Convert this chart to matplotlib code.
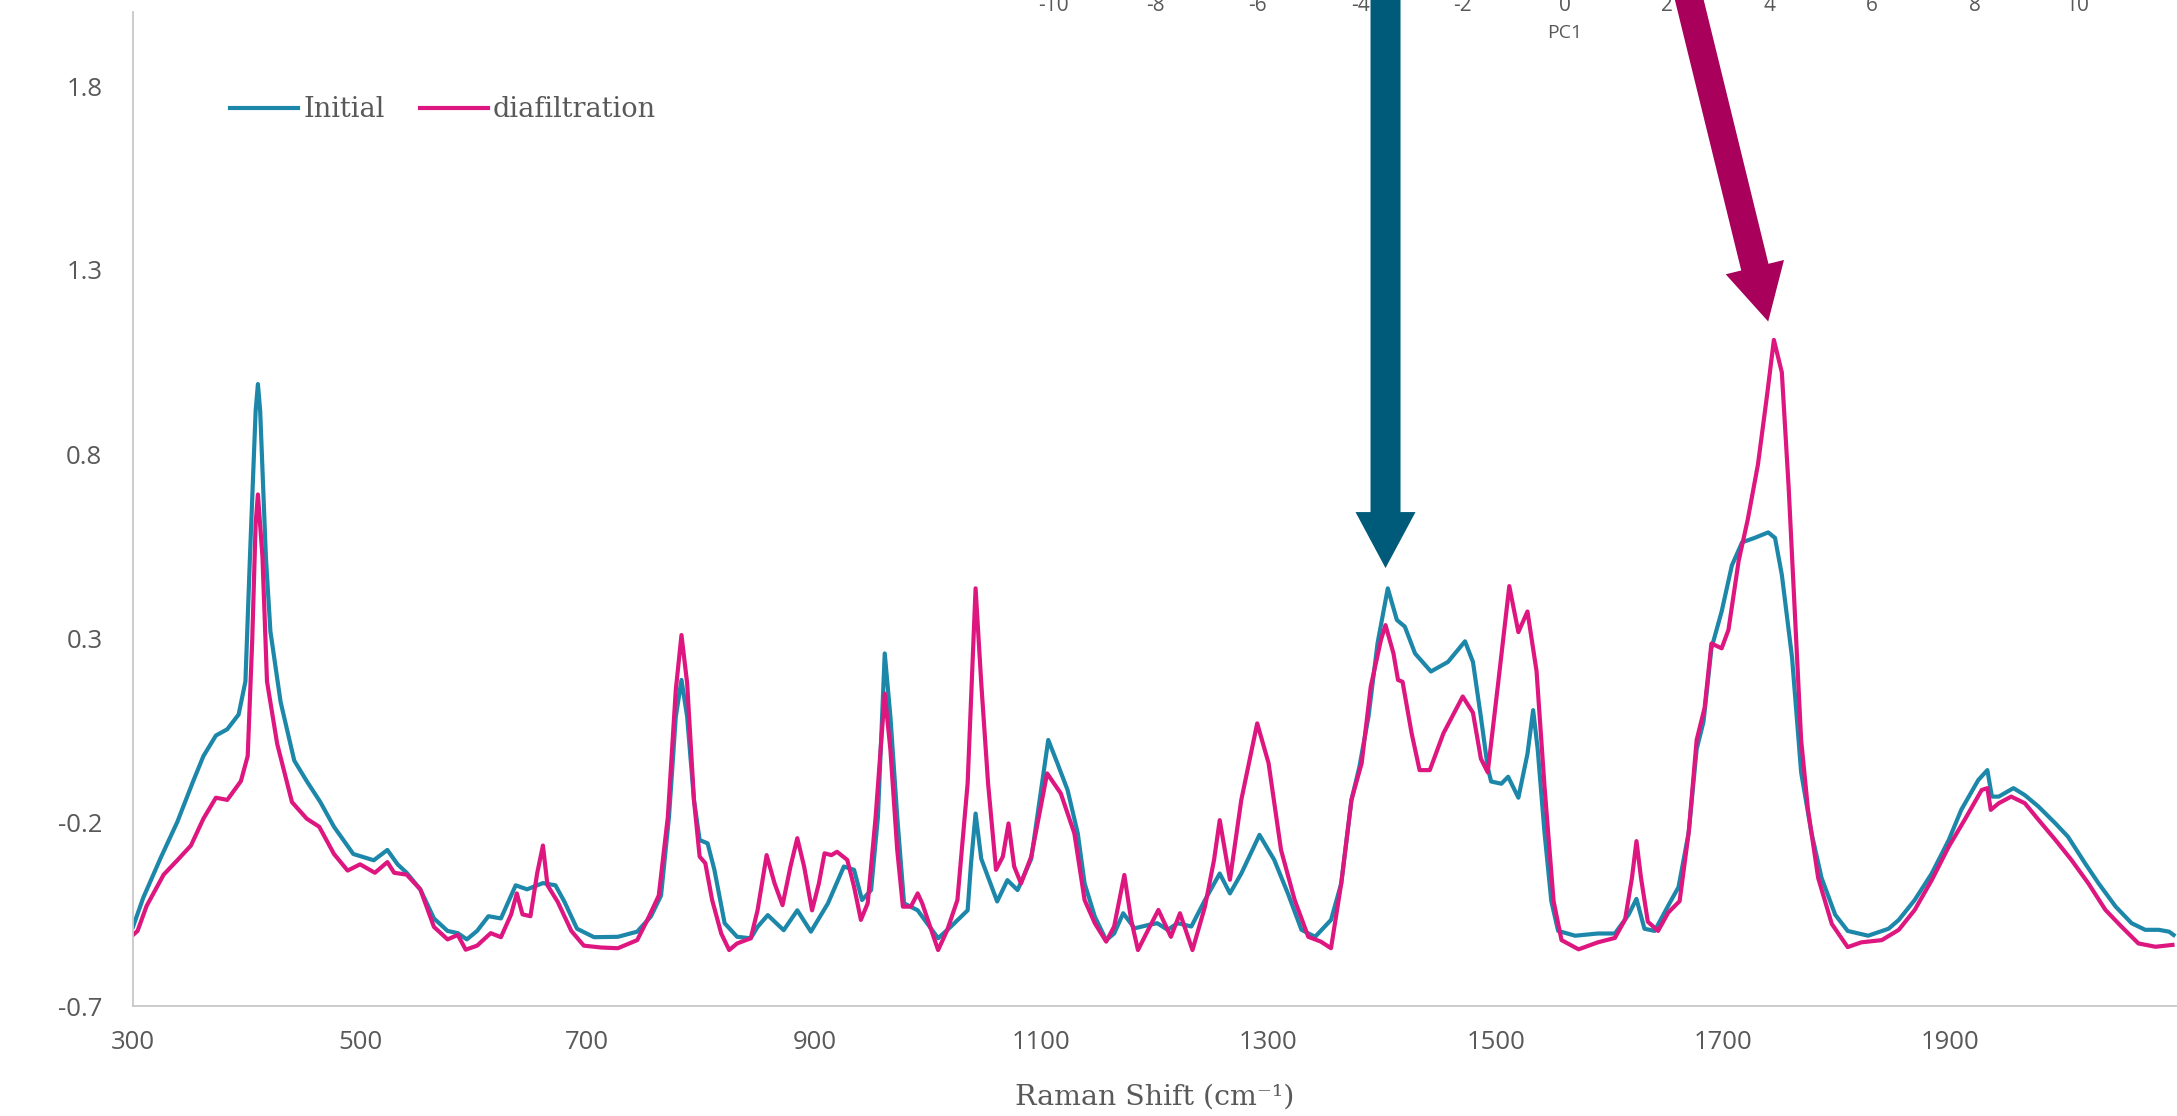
import matplotlib
matplotlib.use('Agg')
import matplotlib.pyplot as plt
from matplotlib.patches import FancyArrow
from matplotlib.transforms import IdentityTransform

plt.rcParams['axes.unicode_minus'] = False

# Raman shift (cm-1) and intensity
initial_x = [300, 309, 324, 339, 353, 362, 373, 383, 393, 399, 403, 408, 410, 412, 417, 421, 430, 442, 453, 465,
             477, 494, 512, 524, 533, 541, 553, 565, 577, 586, 594, 603, 613, 624, 637, 647, 661, 672, 680, 691,
             706, 727, 744, 756, 765, 772, 778, 783, 788, 794, 799, 806, 812, 821, 832, 844, 850, 859, 873, 885,
             897, 912, 926, 935, 942, 950, 956, 962, 967, 973, 979, 991, 1009, 1020, 1035, 1038, 1042, 1047, 1061, 1070,
             1079, 1091, 1106, 1114, 1123, 1132, 1138, 1147, 1157, 1164, 1172, 1182, 1194, 1202, 1211, 1220, 1232, 1244, 1257, 1266,
             1276, 1292, 1305, 1317, 1329, 1341, 1355, 1364, 1373, 1380, 1388, 1396, 1405, 1413, 1420, 1429, 1443, 1458, 1473, 1480,
             1487, 1493, 1496, 1505, 1511, 1520, 1528, 1533, 1537, 1543, 1549, 1555, 1570, 1590, 1605, 1617, 1624, 1631, 1640, 1652,
             1661, 1670, 1677, 1683, 1690, 1699, 1708, 1717, 1728, 1740, 1746, 1752, 1761, 1769, 1778, 1787, 1799, 1810, 1828, 1846,
             1855, 1869, 1884, 1899, 1910, 1925, 1933, 1937, 1943, 1956, 1966, 1978, 1993, 2004, 2019, 2031, 2046, 2060, 2072, 2084,
             2093, 2097]
initial_y = [-0.485, -0.406, -0.30, -0.20, -0.089, -0.021, 0.035, 0.052, 0.092, 0.182, 0.521, 0.917, 0.99, 0.917, 0.521, 0.318, 0.126, -0.033, -0.089, -0.146,
             -0.213, -0.287, -0.304, -0.276, -0.315, -0.338, -0.383, -0.462, -0.496, -0.502, -0.519, -0.496, -0.456, -0.462, -0.372, -0.383, -0.366, -0.372, -0.417, -0.49,
             -0.513, -0.512, -0.498, -0.457, -0.40, -0.186, 0.086, 0.186, 0.086, -0.14, -0.249, -0.258, -0.33, -0.475, -0.512, -0.516, -0.485, -0.453, -0.494, -0.44,
             -0.498, -0.421, -0.321, -0.33, -0.412, -0.385, -0.186, 0.258, 0.086, -0.186, -0.421, -0.44, -0.516, -0.485, -0.44, -0.312, -0.177, -0.30, -0.416, -0.358,
             -0.385, -0.30, 0.023, -0.04, -0.113, -0.231, -0.367, -0.457, -0.521, -0.503, -0.448, -0.489, -0.48, -0.475, -0.493, -0.475, -0.484, -0.412, -0.34, -0.394,
             -0.34, -0.235, -0.303, -0.394, -0.493, -0.512, -0.466, -0.367, -0.14, -0.05, 0.086, 0.286, 0.435, 0.349, 0.331, 0.258, 0.209, 0.235, 0.291, 0.235,
             0.085, -0.052, -0.09, -0.096, -0.077, -0.134, -0.015, 0.104, -0.002, -0.228, -0.415, -0.496, -0.509, -0.503, -0.503, -0.452, -0.409, -0.49, -0.496, -0.427,
             -0.377, -0.228, -0.002, 0.072, 0.272, 0.372, 0.497, 0.56, 0.572, 0.587, 0.572, 0.472, 0.247, -0.065, -0.228, -0.352, -0.452, -0.496, -0.509, -0.49,
             -0.466, -0.412, -0.34, -0.249, -0.167, -0.086, -0.059, -0.131, -0.131, -0.108, -0.127, -0.158, -0.204, -0.24, -0.312, -0.367, -0.43, -0.475, -0.493, -0.493,
             -0.498, -0.507]

diaf_x = [300, 304, 312, 327, 339, 351, 362, 373, 383, 395, 401, 405, 408, 410, 414, 418, 427, 440, 453, 464,
          477, 489, 500, 513, 524, 530, 541, 553, 565, 577, 586, 593, 603, 615, 624, 633, 638, 643, 650, 656,
          661, 665, 674, 686, 697, 712, 727, 744, 753, 763, 771, 778, 783, 788, 794, 799, 804, 810, 818, 825,
          832, 844, 850, 858, 865, 872, 879, 885, 891, 898, 904, 909, 915, 920, 929, 935, 941, 947, 954, 962,
          967, 973, 978, 985, 991, 995, 1003, 1009, 1017, 1026, 1035, 1042, 1047, 1053, 1060, 1066, 1071, 1076, 1082, 1091,
          1105, 1117, 1129, 1138, 1147, 1157, 1164, 1173, 1179, 1185, 1194, 1203, 1214, 1222, 1233, 1244, 1252, 1257, 1266, 1276,
          1290, 1300, 1311, 1323, 1335, 1346, 1355, 1364, 1373, 1382, 1390, 1399, 1403, 1410, 1414, 1418, 1426, 1433, 1442, 1454,
          1471, 1480, 1487, 1493, 1502, 1512, 1520, 1528, 1536, 1543, 1551, 1558, 1573, 1590, 1605, 1614, 1620, 1624, 1628, 1634,
          1643, 1652, 1662, 1670, 1677, 1684, 1690, 1699, 1705, 1714, 1722, 1731, 1739, 1745, 1752, 1758, 1764, 1769, 1775, 1784,
          1796, 1810, 1822, 1840, 1855, 1869, 1884, 1899, 1913, 1928, 1933, 1936, 1943, 1954, 1966, 1978, 1993, 2007, 2022, 2037,
          2051, 2066, 2081, 2096]
diaf_y = [-0.507, -0.496, -0.428, -0.343, -0.304, -0.264, -0.191, -0.134, -0.14, -0.089, -0.021, 0.295, 0.611, 0.69, 0.521, 0.182, 0.012, -0.146, -0.191, -0.213,
          -0.287, -0.332, -0.315, -0.338, -0.309, -0.338, -0.343, -0.383, -0.485, -0.519, -0.507, -0.547, -0.536, -0.502, -0.513, -0.451, -0.394, -0.451, -0.456, -0.338,
          -0.264, -0.372, -0.417, -0.496, -0.536, -0.541, -0.543, -0.521, -0.466, -0.40, -0.186, 0.159, 0.308, 0.177, -0.14, -0.294, -0.312, -0.412, -0.503, -0.548,
          -0.53, -0.516, -0.44, -0.29, -0.367, -0.426, -0.321, -0.244, -0.321, -0.44, -0.367, -0.285, -0.29, -0.281, -0.303, -0.376, -0.466, -0.421, -0.186, 0.149,
          -0.004, -0.276, -0.43, -0.43, -0.394, -0.421, -0.494, -0.548, -0.494, -0.412, -0.095, 0.435, 0.177, -0.095, -0.33, -0.294, -0.204, -0.321, -0.367, -0.294,
          -0.068, -0.122, -0.231, -0.412, -0.475, -0.525, -0.484, -0.344, -0.466, -0.548, -0.493, -0.439, -0.512, -0.448, -0.548, -0.43, -0.303, -0.195, -0.357, -0.14,
          0.068, -0.04, -0.276, -0.412, -0.512, -0.525, -0.543, -0.367, -0.14, -0.04, 0.168, 0.295, 0.335, 0.258, 0.186, 0.181, 0.041, -0.059, -0.059, 0.041,
          0.141, 0.097, -0.028, -0.065, 0.172, 0.441, 0.316, 0.372, 0.21, -0.103, -0.415, -0.521, -0.546, -0.527, -0.515, -0.465, -0.352, -0.252, -0.352, -0.471,
          -0.496, -0.446, -0.415, -0.228, 0.023, 0.11, 0.285, 0.272, 0.322, 0.51, 0.622, 0.772, 0.96, 1.11, 1.022, 0.71, 0.335, 0.023, -0.165, -0.352,
          -0.477, -0.54, -0.527, -0.521, -0.493, -0.439, -0.358, -0.267, -0.194, -0.113, -0.108, -0.167, -0.149, -0.131, -0.149, -0.194, -0.249, -0.303, -0.367, -0.439,
          -0.484, -0.53, -0.539, -0.534]

x_ticks = [300, 500, 700, 900, 1100, 1300, 1500, 1700, 1900]
y_ticks = [-0.7, -0.2, 0.3, 0.8, 1.3, 1.8]
pc1_ticks = [-10, -8, -6, -4, -2, 0, 2, 4, 6, 8, 10]

# peaks the arrows point at (shift, intensity just above the peak)
arrow_tips = [(1403, 0.49), (1740, 1.16)]

W, H = 2177, 1116
grey = '#595959'
teal = '#1D87AA'
pink = '#DD177F'

fig = plt.figure(figsize=(W / 100, H / 100), dpi=100)
ax = fig.add_axes([133 / W, 1 - 1006 / H, 1 - 133 / W, (1006 - 12.4) / H])

ax.plot(initial_x, initial_y, color=teal, lw=3.0, solid_joinstyle='round', label='Initial')
ax.plot(diaf_x, diaf_y, color=pink, lw=3.0, solid_joinstyle='round', label='diafiltration')

ax.set_xlim(300, 2100)
ax.set_ylim(-0.7, 2.0)
ax.set_xticks(x_ticks)
ax.set_yticks(y_ticks)
ax.set_yticklabels(['%.1f' % v for v in y_ticks])
for s in ['top', 'right']:
    ax.spines[s].set_visible(False)
for s in ['left', 'bottom']:
    ax.spines[s].set_color('#C8C8C8')
    ax.spines[s].set_linewidth(1.3)
ax.tick_params(axis='both', length=0, labelsize=18.5, labelcolor=grey)
ax.tick_params(axis='x', pad=17)
ax.tick_params(axis='y', pad=22)
for lab in ax.get_xticklabels() + ax.get_yticklabels():
    lab.set_family('Open Sans')

ax.set_xlabel('Raman Shift (cm⁻¹)', fontsize=20.5, family='DejaVu Serif', color=grey)
ax.xaxis.set_label_coords(0.5, -(1097 - 1006) / (1006 - 12.4))
ax.xaxis.label.set_va('center')

ax.legend(loc='center left', bbox_to_anchor=(0.0475, 0.902), ncol=2, frameon=False,
          borderpad=0, borderaxespad=0, handlelength=2.5, handletextpad=0.2, columnspacing=1.3,
          prop={'family': 'DejaVu Serif', 'size': 19.5}, labelcolor=grey)

# leftover axis of the PCA plot pasted above
ax2 = fig.add_axes([950.6 / W, 1 + 5 / H, 1228.8 / W, 0.03])
ax2.set_xlim(-12, 12)
ax2.set_xticks(pc1_ticks)
ax2.set_yticks([])
ax2.patch.set_visible(False)
for s in ax2.spines.values():
    s.set_visible(False)
ax2.tick_params(axis='x', length=0, pad=0, labelsize=15, labelcolor=grey)
for lab in ax2.get_xticklabels():
    lab.set_family('Open Sans')
fig.text(1565 / W, 1 - 33 / H, 'PC1', ha='center', va='center', fontsize=14, family='Open Sans', color=grey)

# arrows (pixel space, tip anchored on the peaks)
tip = ax.transData.transform(arrow_tips[0])
top = H + 10
a1 = FancyArrow(tip[0], top, 0, tip[1] - top, width=30, head_width=60, head_length=56,
                length_includes_head=True, transform=IdentityTransform(), color='#005A7A', lw=0, zorder=10)
fig.add_artist(a1)

tip = ax.transData.transform(arrow_tips[1])
tail_x = tip[0] - (top - tip[1]) * 79 / 322
a2 = FancyArrow(tail_x, top, tip[0] - tail_x, tip[1] - top, width=28, head_width=60, head_length=56,
                length_includes_head=True, transform=IdentityTransform(), color='#A8005B', lw=0, zorder=10)
fig.add_artist(a2)

fig.savefig('out.png', dpi=100)
